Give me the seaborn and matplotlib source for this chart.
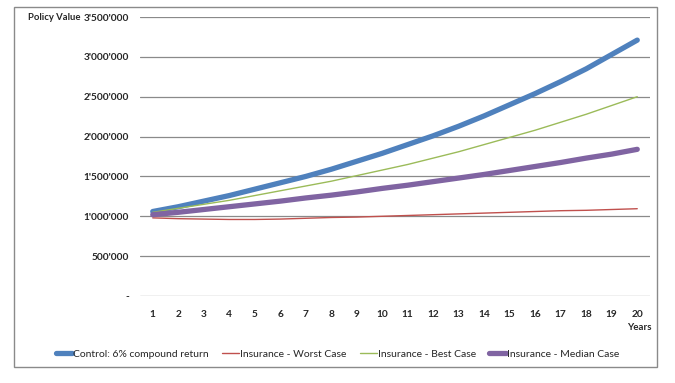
import numpy as np
import pandas as pd
import matplotlib
matplotlib.use("Agg")
import matplotlib.pyplot as plt
import seaborn as sns
from matplotlib.patches import Rectangle
from matplotlib.ticker import FuncFormatter

#%% datos
years = list(range(1, 21))
control = [1.06e6, 1.12e6, 1.19e6, 1.26e6, 1.34e6, 1.42e6, 1.50e6, 1.59e6, 1.69e6, 1.79e6,
           1.90e6, 2.01e6, 2.13e6, 2.26e6, 2.40e6, 2.54e6, 2.69e6, 2.85e6, 3.03e6, 3.21e6]
worst = [0.98e6, 0.97e6, 0.965e6, 0.96e6, 0.96e6, 0.965e6, 0.975e6, 0.985e6, 0.99e6, 1.00e6,
         1.01e6, 1.02e6, 1.03e6, 1.04e6, 1.05e6, 1.06e6, 1.07e6, 1.075e6, 1.085e6, 1.095e6]
best = [1.05e6, 1.10e6, 1.15e6, 1.20e6, 1.26e6, 1.32e6, 1.38e6, 1.44e6, 1.51e6, 1.58e6,
        1.65e6, 1.73e6, 1.81e6, 1.90e6, 1.99e6, 2.08e6, 2.18e6, 2.28e6, 2.39e6, 2.50e6]
median = [1.02e6, 1.05e6, 1.085e6, 1.12e6, 1.155e6, 1.19e6, 1.23e6, 1.265e6, 1.305e6, 1.35e6,
          1.39e6, 1.435e6, 1.48e6, 1.525e6, 1.575e6, 1.625e6, 1.675e6, 1.73e6, 1.78e6, 1.84e6]
series_names = ["Control: 6% compound return", "Insurance - Worst Case",
                "Insurance - Best Case", "Insurance - Median Case"]
yticks = [0, 500000, 1000000, 1500000, 2000000, 2500000, 3000000, 3500000]

#%%
sns.set_style("white")
plt.rcParams['font.family'] = ['Lato', 'DejaVu Sans']

df = pd.DataFrame({"Years": years, series_names[0]: control, series_names[1]: worst,
                   series_names[2]: best, series_names[3]: median})

fig = plt.figure(figsize=(6.75, 3.83), dpi=100)
ax = fig.add_axes([140/675, 1-296/383, 510/675, 279/383])

colores = ["#4F81BD", "#C0504D", "#9BBB59", "#8064A2"]
anchos = [3.8, 1.0, 1.0, 3.8]
for nombre, c, lw in zip(series_names, colores, anchos):
    sns.lineplot(data=df, x="Years", y=nombre, ax=ax, color=c, linewidth=lw,
                 label=nombre, solid_capstyle="round")

ax.set_xlim(0.5, 20.5)
ax.set_ylim(0, 3500000)
ax.set_xticks(years)
ax.set_yticks(yticks)

def fmt(v, pos):
    if v == 0:
        return "-"
    return f"{int(v):,}".replace(",", "'")
ax.yaxis.set_major_formatter(FuncFormatter(fmt))

ax.grid(axis="y", color="#8a8a8a", linewidth=0.9)
for s in ax.spines.values():
    s.set_visible(False)
ax.tick_params(axis="both", length=0, labelsize=7.3)
ax.tick_params(axis="x", pad=10)
ax.tick_params(axis="y", pad=8)
for t in ax.get_xticklabels() + ax.get_yticklabels():
    t.set_fontweight("bold")
ax.set_xlabel("")
ax.set_ylabel("")

fig.text(28/675, 1-18/383, "Policy Value", fontsize=6.8, fontweight="bold", va="center", ha="left")
fig.text(652/675, 1-327/383, "Years", fontsize=7, fontweight="bold", va="center", ha="right")

ax.legend_.remove()
h, l = ax.get_legend_handles_labels()
fig.legend(h, l, loc="center", bbox_to_anchor=(0.5, 1-354/383), ncol=4, frameon=False,
           fontsize=7.5, handlelength=1.6, handletextpad=0.1, columnspacing=1.3)

fig.patches.append(Rectangle((14/675, 1-367/383), 643/675, 360/383, transform=fig.transFigure,
                             fill=False, edgecolor="#8a8a8a", linewidth=1.0))

plt.savefig("out.png", dpi=100)
